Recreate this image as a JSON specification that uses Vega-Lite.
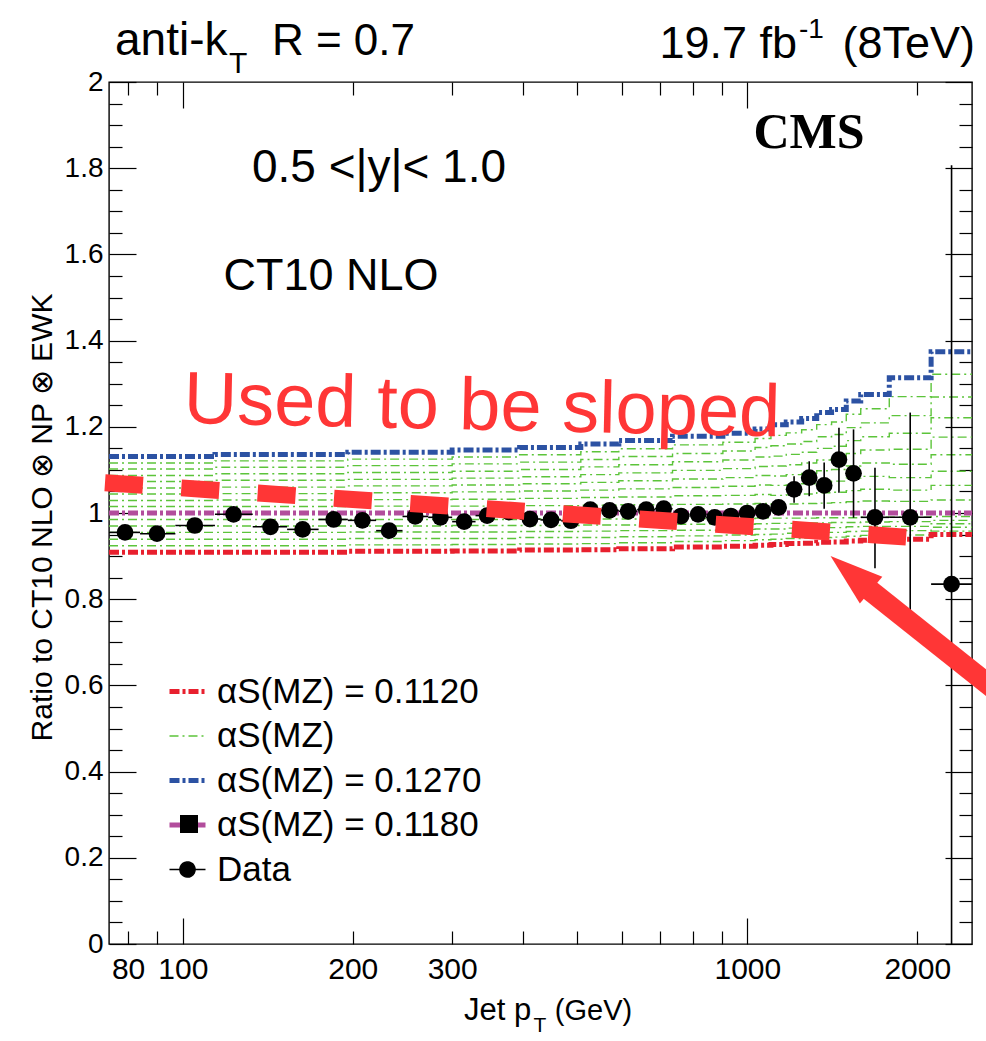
{
  "$schema": "https://vega.github.io/schema/vega-lite/v6.json",
  "width": 863,
  "height": 862,
  "autosize": {"type": "none"},
  "padding": {"left": 109, "top": 82, "right": 14, "bottom": 97},
  "background": "white",
  "config": {
    "view": {"stroke": "black", "strokeWidth": 1.4},
    "font": "Liberation Sans",
    "axis": {"grid": false, "domain": false, "labelColor": "black", "tickColor": "black", "tickWidth": 1.2, "labelFont": "Liberation Sans", "labelFlush": false, "labelOverlap": false, "labelBound": false}
  },
  "datasets": {
    "theory": [
      {"lo": 74, "a112": 0.909, "a113": 0.924, "a114": 0.939, "a115": 0.955, "a116": 0.970, "a117": 0.985, "a118": 1, "a119": 1.015, "a120": 1.029, "a121": 1.044, "a122": 1.058, "a123": 1.073, "a124": 1.087, "a125": 1.102, "a126": 1.116, "a127": 1.131},
      {"lo": 114, "a112": 0.909, "a113": 0.924, "a114": 0.939, "a115": 0.955, "a116": 0.970, "a117": 0.985, "a118": 1, "a119": 1.015, "a120": 1.030, "a121": 1.045, "a122": 1.060, "a123": 1.076, "a124": 1.091, "a125": 1.106, "a126": 1.121, "a127": 1.136},
      {"lo": 196, "a112": 0.911, "a113": 0.926, "a114": 0.941, "a115": 0.956, "a116": 0.970, "a117": 0.985, "a118": 1, "a119": 1.016, "a120": 1.031, "a121": 1.047, "a122": 1.063, "a123": 1.078, "a124": 1.094, "a125": 1.110, "a126": 1.125, "a127": 1.141},
      {"lo": 300, "a112": 0.912, "a113": 0.927, "a114": 0.941, "a115": 0.956, "a116": 0.971, "a117": 0.985, "a118": 1, "a119": 1.016, "a120": 1.032, "a121": 1.049, "a122": 1.065, "a123": 1.081, "a124": 1.097, "a125": 1.114, "a126": 1.130, "a127": 1.146},
      {"lo": 395, "a112": 0.914, "a113": 0.928, "a114": 0.943, "a115": 0.957, "a116": 0.971, "a117": 0.986, "a118": 1, "a119": 1.017, "a120": 1.034, "a121": 1.051, "a122": 1.068, "a123": 1.084, "a124": 1.101, "a125": 1.118, "a126": 1.135, "a127": 1.152},
      {"lo": 507, "a112": 0.915, "a113": 0.929, "a114": 0.943, "a115": 0.958, "a116": 0.972, "a117": 0.986, "a118": 1, "a119": 1.018, "a120": 1.036, "a121": 1.053, "a122": 1.071, "a123": 1.089, "a124": 1.107, "a125": 1.124, "a126": 1.142, "a127": 1.160},
      {"lo": 592, "a112": 0.917, "a113": 0.931, "a114": 0.945, "a115": 0.959, "a116": 0.972, "a117": 0.986, "a118": 1, "a119": 1.019, "a120": 1.037, "a121": 1.056, "a122": 1.075, "a123": 1.093, "a124": 1.112, "a125": 1.131, "a126": 1.149, "a127": 1.168},
      {"lo": 737, "a112": 0.921, "a113": 0.934, "a114": 0.947, "a115": 0.960, "a116": 0.974, "a117": 0.987, "a118": 1, "a119": 1.020, "a120": 1.040, "a121": 1.059, "a122": 1.079, "a123": 1.099, "a124": 1.119, "a125": 1.138, "a126": 1.158, "a127": 1.178},
      {"lo": 905, "a112": 0.923, "a113": 0.936, "a114": 0.949, "a115": 0.962, "a116": 0.974, "a117": 0.987, "a118": 1, "a119": 1.021, "a120": 1.041, "a121": 1.062, "a122": 1.082, "a123": 1.103, "a124": 1.123, "a125": 1.144, "a126": 1.164, "a127": 1.185},
      {"lo": 1032, "a112": 0.925, "a113": 0.938, "a114": 0.950, "a115": 0.963, "a116": 0.975, "a117": 0.988, "a118": 1, "a119": 1.022, "a120": 1.043, "a121": 1.065, "a122": 1.087, "a123": 1.108, "a124": 1.130, "a125": 1.152, "a126": 1.173, "a127": 1.195},
      {"lo": 1101, "a112": 0.927, "a113": 0.939, "a114": 0.951, "a115": 0.963, "a116": 0.976, "a117": 0.988, "a118": 1, "a119": 1.021, "a120": 1.041, "a121": 1.064, "a122": 1.086, "a123": 1.109, "a124": 1.132, "a125": 1.156, "a126": 1.180, "a127": 1.205},
      {"lo": 1172, "a112": 0.929, "a113": 0.941, "a114": 0.953, "a115": 0.965, "a116": 0.976, "a117": 0.988, "a118": 1, "a119": 1.021, "a120": 1.042, "a121": 1.065, "a122": 1.089, "a123": 1.112, "a124": 1.136, "a125": 1.160, "a126": 1.186, "a127": 1.211},
      {"lo": 1248, "a112": 0.930, "a113": 0.942, "a114": 0.953, "a115": 0.965, "a116": 0.977, "a117": 0.988, "a118": 1, "a119": 1.022, "a120": 1.044, "a121": 1.068, "a122": 1.092, "a123": 1.116, "a124": 1.141, "a125": 1.166, "a126": 1.193, "a127": 1.219},
      {"lo": 1327, "a112": 0.932, "a113": 0.943, "a114": 0.955, "a115": 0.966, "a116": 0.977, "a117": 0.989, "a118": 1, "a119": 1.023, "a120": 1.047, "a121": 1.072, "a122": 1.098, "a123": 1.123, "a124": 1.150, "a125": 1.177, "a126": 1.205, "a127": 1.233},
      {"lo": 1410, "a112": 0.933, "a113": 0.944, "a114": 0.955, "a115": 0.966, "a116": 0.978, "a117": 0.989, "a118": 1, "a119": 1.024, "a120": 1.048, "a121": 1.074, "a122": 1.101, "a123": 1.127, "a124": 1.155, "a125": 1.182, "a126": 1.211, "a127": 1.240},
      {"lo": 1497, "a112": 0.935, "a113": 0.946, "a114": 0.957, "a115": 0.968, "a116": 0.978, "a117": 0.989, "a118": 1, "a119": 1.026, "a120": 1.052, "a121": 1.081, "a122": 1.109, "a123": 1.138, "a124": 1.168, "a125": 1.198, "a126": 1.229, "a127": 1.260},
      {"lo": 1588, "a112": 0.937, "a113": 0.948, "a114": 0.958, "a115": 0.969, "a116": 0.979, "a117": 0.990, "a118": 1, "a119": 1.028, "a120": 1.055, "a121": 1.085, "a122": 1.116, "a123": 1.146, "a124": 1.177, "a125": 1.209, "a126": 1.242, "a127": 1.275},
      {"lo": 1784, "a112": 0.939, "a113": 0.949, "a114": 0.959, "a115": 0.969, "a116": 0.980, "a117": 0.990, "a118": 1, "a119": 1.027, "a120": 1.053, "a121": 1.082, "a122": 1.113, "a123": 1.148, "a124": 1.185, "a125": 1.226, "a126": 1.270, "a127": 1.314},
      {"lo": 2116, "a112": 0.950, "a113": 0.958, "a114": 0.967, "a115": 0.975, "a116": 0.983, "a117": 0.992, "a118": 1, "a119": 1.030, "a120": 1.064, "a121": 1.097, "a122": 1.135, "a123": 1.176, "a124": 1.221, "a125": 1.269, "a126": 1.322, "a127": 1.374},
      {"lo": 2500, "a112": 0.950, "a113": 0.958, "a114": 0.967, "a115": 0.975, "a116": 0.983, "a117": 0.992, "a118": 1, "a119": 1.030, "a120": 1.064, "a121": 1.097, "a122": 1.135, "a123": 1.176, "a124": 1.221, "a125": 1.269, "a126": 1.322, "a127": 1.374}
    ],
    "points": [
      {"pt": 79, "xlo": 74, "xhi": 84, "r": 0.955, "ylo": 0.950, "yhi": 0.960},
      {"pt": 90, "xlo": 84, "xhi": 97, "r": 0.952, "ylo": 0.947, "yhi": 0.957},
      {"pt": 105, "xlo": 97, "xhi": 114, "r": 0.971, "ylo": 0.966, "yhi": 0.976},
      {"pt": 123, "xlo": 114, "xhi": 133, "r": 0.997, "ylo": 0.992, "yhi": 1.002},
      {"pt": 143, "xlo": 133, "xhi": 153, "r": 0.968, "ylo": 0.963, "yhi": 0.973},
      {"pt": 163, "xlo": 153, "xhi": 174, "r": 0.962, "ylo": 0.957, "yhi": 0.967},
      {"pt": 185, "xlo": 174, "xhi": 196, "r": 0.985, "ylo": 0.980, "yhi": 0.990},
      {"pt": 208, "xlo": 196, "xhi": 220, "r": 0.983, "ylo": 0.978, "yhi": 0.988},
      {"pt": 232, "xlo": 220, "xhi": 245, "r": 0.959, "ylo": 0.954, "yhi": 0.964},
      {"pt": 258, "xlo": 245, "xhi": 272, "r": 0.992, "ylo": 0.987, "yhi": 0.997},
      {"pt": 286, "xlo": 272, "xhi": 300, "r": 0.990, "ylo": 0.985, "yhi": 0.995},
      {"pt": 315, "xlo": 300, "xhi": 330, "r": 0.980, "ylo": 0.975, "yhi": 0.985},
      {"pt": 346, "xlo": 330, "xhi": 362, "r": 0.994, "ylo": 0.989, "yhi": 0.999},
      {"pt": 378, "xlo": 362, "xhi": 395, "r": 1.002, "ylo": 0.997, "yhi": 1.007},
      {"pt": 412, "xlo": 395, "xhi": 430, "r": 0.986, "ylo": 0.981, "yhi": 0.991},
      {"pt": 449, "xlo": 430, "xhi": 468, "r": 0.984, "ylo": 0.979, "yhi": 0.989},
      {"pt": 487, "xlo": 468, "xhi": 507, "r": 0.982, "ylo": 0.977, "yhi": 0.987},
      {"pt": 527, "xlo": 507, "xhi": 548, "r": 1.008, "ylo": 1.003, "yhi": 1.013},
      {"pt": 570, "xlo": 548, "xhi": 592, "r": 1.006, "ylo": 1.001, "yhi": 1.011},
      {"pt": 615, "xlo": 592, "xhi": 638, "r": 1.004, "ylo": 0.999, "yhi": 1.009},
      {"pt": 662, "xlo": 638, "xhi": 686, "r": 1.008, "ylo": 1.002, "yhi": 1.014},
      {"pt": 711, "xlo": 686, "xhi": 737, "r": 1.010, "ylo": 1.004, "yhi": 1.016},
      {"pt": 763, "xlo": 737, "xhi": 790, "r": 0.993, "ylo": 0.986, "yhi": 1.000},
      {"pt": 818, "xlo": 790, "xhi": 846, "r": 0.997, "ylo": 0.990, "yhi": 1.004},
      {"pt": 875, "xlo": 846, "xhi": 905, "r": 0.990, "ylo": 0.982, "yhi": 0.998},
      {"pt": 935, "xlo": 905, "xhi": 967, "r": 0.993, "ylo": 0.984, "yhi": 1.002},
      {"pt": 999, "xlo": 967, "xhi": 1032, "r": 1.000, "ylo": 0.990, "yhi": 1.010},
      {"pt": 1066, "xlo": 1032, "xhi": 1101, "r": 1.004, "ylo": 0.992, "yhi": 1.016},
      {"pt": 1136, "xlo": 1101, "xhi": 1172, "r": 1.013, "ylo": 0.998, "yhi": 1.028},
      {"pt": 1210, "xlo": 1172, "xhi": 1248, "r": 1.055, "ylo": 1.024, "yhi": 1.085},
      {"pt": 1287, "xlo": 1248, "xhi": 1327, "r": 1.082, "ylo": 1.039, "yhi": 1.120},
      {"pt": 1368, "xlo": 1327, "xhi": 1410, "r": 1.064, "ylo": 1.010, "yhi": 1.117},
      {"pt": 1453, "xlo": 1410, "xhi": 1497, "r": 1.124, "ylo": 1.047, "yhi": 1.198},
      {"pt": 1542, "xlo": 1497, "xhi": 1588, "r": 1.092, "ylo": 0.989, "yhi": 1.194},
      {"pt": 1683, "xlo": 1588, "xhi": 1784, "r": 0.990, "ylo": 0.872, "yhi": 1.105},
      {"pt": 1943, "xlo": 1784, "xhi": 2116, "r": 0.990, "ylo": 0.767, "yhi": 1.233},
      {"pt": 2300, "xlo": 2116, "xhi": 2500, "r": 0.835, "ylo": 0.0, "yhi": 1.807}
    ]
  },
  "resolve": {"axis": {"x": "independent", "y": "independent"}},
  "layer": [
    {
      "data": {"name": "theory"},
      "transform": [{"fold": ["a113", "a114", "a115", "a116", "a117", "a119", "a120", "a121", "a122", "a123", "a124", "a125", "a126"], "as": ["alpha", "ratio"]}],
      "mark": {"type": "line", "interpolate": "step-after", "strokeWidth": 1.4, "strokeDash": [9, 4, 2, 4]},
      "encoding": {
        "x": {"field": "lo", "type": "quantitative", "scale": {"type": "log", "domain": [74, 2500], "nice": false},
          "axis": {"orient": "bottom", "values": [80, 100, 200, 300, 1000, 2000], "ticks": false, "domain": false, "grid": false, "labelFontSize": 30, "labelPadding": 10, "format": "~g", "title": null, "labelFlush": false, "labelOverlap": false}},
        "y": {"field": "ratio", "type": "quantitative", "scale": {"domain": [0, 2], "nice": false, "zero": false},
          "axis": {"orient": "left", "values": [0, 0.2, 0.4, 0.6, 0.8, 1, 1.2, 1.4, 1.6, 1.8, 2], "ticks": false, "domain": false, "grid": false, "labelFontSize": 28, "labelPadding": 6, "format": "~g", "labelFlush": false, "labelOverlap": false,
            "title": "Ratio to CT10 NLO ⊗ NP ⊗ EWK", "titleFontSize": 30, "titleFontWeight": "normal", "titleFont": "Liberation Sans", "titleColor": "black", "titleX": -67, "titleY": 435, "titleAngle": -90, "titleAlign": "center", "titleBaseline": "middle"}},
        "detail": {"field": "alpha"},
        "color": {"field": "alpha", "type": "nominal",
          "scale": {"domain": ["a112", "a113", "a114", "a115", "a116", "a117", "a118", "a119", "a120", "a121", "a122", "a123", "a124", "a125", "a126", "a127", "Data"],
            "range": ["#e8202e", "#5cc43a", "#5cc43a", "#5cc43a", "#5cc43a", "#5cc43a", "#b24d9c", "#5cc43a", "#5cc43a", "#5cc43a", "#5cc43a", "#5cc43a", "#5cc43a", "#5cc43a", "#5cc43a", "#2c52a3", "black"]},
          "legend": {
            "orient": "none", "legendX": 61, "legendY": 592, "title": null, "padding": 0,
            "symbolSize": 1296, "labelOffset": 12, "rowPadding": 8.5, "labelFontSize": 35, "labelFont": "Liberation Sans", "labelColor": "black", "labelBaseline": "middle", "labelLimit": 0,
            "values": ["a112", "a113", "a127", "a118", "Data"],
            "labelExpr": "datum.value === 'a112' ? 'αS(MZ) = 0.1120' : datum.value === 'a113' ? 'αS(MZ)' : datum.value === 'a127' ? 'αS(MZ) = 0.1270' : datum.value === 'a118' ? 'αS(MZ) = 0.1180' : 'Data'",
            "encode": {
              "symbols": {
                "update": {
                  "shape": {"signal": "datum.value === 'Data' ? 'M-1,0H1M-0.42,0A0.42,0.42 0 1 1 0.42,0A0.42,0.42 0 1 1 -0.42,0Z' : 'M-1,0H1'"},
                  "size": {"value": 1296},
                  "fill": {"signal": "datum.value === 'Data' ? 'black' : 'transparent'"},
                  "stroke": {"signal": "datum.value === 'Data' ? 'black' : (datum.value === 'a112' ? '#e8202e' : (datum.value === 'a113' ? '#5cc43a' : (datum.value === 'a127' ? '#2c52a3' : '#b24d9c')))"},
                  "strokeWidth": {"signal": "datum.value === 'a113' ? 1.6 : (datum.value === 'Data' ? 1.5 : 5)"},
                  "strokeDash": {"signal": "datum.value === 'a113' ? [9, 4, 2, 4] : ((datum.value === 'Data' || datum.value === 'a118') ? [1, 0] : [10, 3, 3, 3])"},
                  "opacity": {"value": 1}
                }
              }
            }
          }
        }
      }
    },
    {
      "data": {"name": "theory"},
      "transform": [{"fold": ["a112", "a127", "a118"], "as": ["alpha", "ratio"]}],
      "mark": {"type": "line", "interpolate": "step-after", "strokeWidth": 5, "strokeDash": [10, 3, 3, 3]},
      "encoding": {
        "x": {"field": "lo", "type": "quantitative", "axis": {"orient": "bottom", "values": [100, 1000], "labels": false, "domain": false, "grid": false, "tickSize": 26, "offset": -26, "title": null}},
        "y": {"field": "ratio", "type": "quantitative", "axis": {"orient": "left", "values": [0, 0.2, 0.4, 0.6, 0.8, 1, 1.2, 1.4, 1.6, 1.8, 2], "labels": false, "domain": false, "grid": false, "tickSize": 27, "offset": -27, "title": null}},
        "detail": {"field": "alpha"},
        "color": {"field": "alpha", "type": "nominal"}
      }
    },
    {
      "data": {"name": "points"},
      "mark": {"type": "rule", "color": "black", "strokeWidth": 1.6},
      "encoding": {
        "x": {"field": "xlo", "type": "quantitative", "axis": {"orient": "bottom", "values": [80, 90, 200, 300, 400, 500, 600, 700, 800, 900, 2000], "labels": false, "domain": false, "grid": false, "tickSize": 13, "offset": -13, "title": null}},
        "x2": {"field": "xhi"},
        "y": {"field": "r", "type": "quantitative", "axis": {"orient": "left", "values": [0.05, 0.1, 0.15, 0.25, 0.3, 0.35, 0.45, 0.5, 0.55, 0.65, 0.7, 0.75, 0.85, 0.9, 0.95, 1.05, 1.1, 1.15, 1.25, 1.3, 1.35, 1.45, 1.5, 1.55, 1.65, 1.7, 1.75, 1.85, 1.9, 1.95], "labels": false, "domain": false, "grid": false, "tickSize": 13, "offset": -13, "title": null}}
      }
    },
    {
      "data": {"name": "points"},
      "mark": {"type": "rule", "color": "black", "strokeWidth": 1.6},
      "encoding": {
        "x": {"field": "pt", "type": "quantitative", "axis": {"orient": "top", "values": [100, 1000], "labels": false, "domain": false, "grid": false, "tickSize": 26, "offset": -26, "title": null}},
        "y": {"field": "ylo", "type": "quantitative", "axis": {"orient": "right", "values": [0, 0.2, 0.4, 0.6, 0.8, 1, 1.2, 1.4, 1.6, 1.8, 2], "labels": false, "domain": false, "grid": false, "tickSize": 27, "offset": -27, "title": null}},
        "y2": {"field": "yhi"}
      }
    },
    {
      "data": {"name": "points"},
      "mark": {"type": "point", "shape": "circle", "filled": true, "size": 280, "opacity": 1},
      "encoding": {
        "x": {"field": "pt", "type": "quantitative", "axis": {"orient": "top", "values": [80, 90, 200, 300, 400, 500, 600, 700, 800, 900, 2000], "labels": false, "domain": false, "grid": false, "tickSize": 13, "offset": -13, "title": null}},
        "y": {"field": "r", "type": "quantitative", "axis": {"orient": "right", "values": [0.05, 0.1, 0.15, 0.25, 0.3, 0.35, 0.45, 0.5, 0.55, 0.65, 0.7, 0.75, 0.85, 0.9, 0.95, 1.05, 1.1, 1.15, 1.25, 1.3, 1.35, 1.45, 1.5, 1.55, 1.65, 1.7, 1.75, 1.85, 1.9, 1.95], "labels": false, "domain": false, "grid": false, "tickSize": 13, "offset": -13, "title": null}},
        "color": {"datum": "Data", "type": "nominal"}
      }
    },
    {
      "data": {"values": [{}]},
      "mark": {"type": "point", "filled": true, "color": "black", "opacity": 0},
      "encoding": {
        "x": {"datum": 1000, "type": "quantitative", "axis": null},
        "y": {"datum": 1, "type": "quantitative", "axis": null},
        "shape": {"datum": "sq", "type": "nominal", "scale": {"domain": ["sq"], "range": ["square"]},
          "legend": {"orient": "none", "legendX": 71, "legendY": 733, "title": null, "padding": 0, "symbolSize": 324, "symbolOpacity": 1, "symbolFillColor": "black", "symbolStrokeColor": "black", "symbolStrokeWidth": 0, "labelExpr": "''", "labelOffset": 0,
            "encode": {"symbols": {"update": {"fill": {"value": "black"}, "opacity": {"value": 1}, "strokeWidth": {"value": 0}}}}}}
      }
    },
    {
      "data": {"values": [{}]},
      "mark": {"type": "rule", "color": "#ff3636", "strokeWidth": 17, "strokeDash": [38, 38.5], "strokeCap": "butt"},
      "encoding": {
        "x": {"datum": 72.8, "type": "quantitative", "axis": null},
        "y": {"datum": 1.0703, "type": "quantitative", "axis": null},
        "x2": {"datum": 1918.7},
        "y2": {"datum": 0.9439}
      }
    },
    {
      "data": {"values": [{}]},
      "mark": {"type": "rule", "color": "#ff3636", "strokeWidth": 21, "strokeCap": "butt"},
      "encoding": {
        "x": {"datum": 1623, "type": "quantitative", "axis": null},
        "y": {"datum": 0.8276, "type": "quantitative", "axis": null},
        "x2": {"datum": 2812},
        "y2": {"datum": 0.579}
      }
    },
    {
      "data": {"values": [{}]},
      "mark": {"type": "point", "shape": "M0,-1L0.66,1L-0.66,1Z", "filled": true, "size": 2800, "color": "#ff3636", "opacity": 1, "angle": -50},
      "encoding": {
        "x": {"datum": 1525, "type": "quantitative", "axis": null},
        "y": {"datum": 0.8606, "type": "quantitative", "axis": null}
      }
    },
    {
      "data": {"values": [{}]},
      "mark": {"type": "text", "text": "Used to be sloped", "font": "Liberation Sans", "fontSize": 74, "align": "left", "baseline": "alphabetic", "color": "#ff3636", "angle": 1.3},
      "encoding": {"x": {"datum": 100.2, "type": "quantitative", "axis": null}, "y": {"datum": 1.2088, "type": "quantitative", "axis": null}}
    },
    {
      "data": {"values": [{}]},
      "mark": {"type": "text", "text": "anti-k", "font": "Liberation Sans", "fontSize": 46, "align": "left", "baseline": "alphabetic", "color": "black"},
      "encoding": {"x": {"datum": 75.84, "type": "quantitative", "axis": null}, "y": {"datum": 2.0626, "type": "quantitative", "axis": null}}
    },
    {
      "data": {"values": [{}]},
      "mark": {"type": "text", "text": "T", "font": "Liberation Sans", "fontSize": 30, "align": "left", "baseline": "alphabetic", "color": "black"},
      "encoding": {"x": {"datum": 120.7, "type": "quantitative", "axis": null}, "y": {"datum": 2.0209, "type": "quantitative", "axis": null}}
    },
    {
      "data": {"values": [{}]},
      "mark": {"type": "text", "text": "R = 0.7", "font": "Liberation Sans", "fontSize": 44, "align": "right", "baseline": "alphabetic", "color": "black"},
      "encoding": {"x": {"datum": 257.8, "type": "quantitative", "axis": null}, "y": {"datum": 2.0626, "type": "quantitative", "axis": null}}
    },
    {
      "data": {"values": [{}]},
      "mark": {"type": "text", "text": "19.7 fb", "font": "Liberation Sans", "fontSize": 45, "align": "right", "baseline": "alphabetic", "color": "black"},
      "encoding": {"x": {"datum": 1224.5, "type": "quantitative", "axis": null}, "y": {"datum": 2.0557, "type": "quantitative", "axis": null}}
    },
    {
      "data": {"values": [{}]},
      "mark": {"type": "text", "text": "-1", "font": "Liberation Sans", "fontSize": 28, "align": "left", "baseline": "alphabetic", "color": "black"},
      "encoding": {"x": {"datum": 1234.5, "type": "quantitative", "axis": null}, "y": {"datum": 2.1021, "type": "quantitative", "axis": null}}
    },
    {
      "data": {"values": [{}]},
      "mark": {"type": "text", "text": "(8TeV)", "font": "Liberation Sans", "fontSize": 45, "align": "right", "baseline": "alphabetic", "color": "black"},
      "encoding": {"x": {"datum": 2530.7, "type": "quantitative", "axis": null}, "y": {"datum": 2.0557, "type": "quantitative", "axis": null}}
    },
    {
      "data": {"values": [{}]},
      "mark": {"type": "text", "text": "CMS", "font": "Liberation Serif", "fontWeight": "bold", "fontSize": 50, "align": "center", "baseline": "alphabetic", "color": "black"},
      "encoding": {"x": {"datum": 1286, "type": "quantitative", "axis": null}, "y": {"datum": 1.8469, "type": "quantitative", "axis": null}}
    },
    {
      "data": {"values": [{}]},
      "mark": {"type": "text", "text": "0.5 <|y|< 1.0", "font": "Liberation Sans", "fontSize": 46, "align": "center", "baseline": "alphabetic", "color": "black"},
      "encoding": {"x": {"datum": 222.6, "type": "quantitative", "axis": null}, "y": {"datum": 1.768, "type": "quantitative", "axis": null}}
    },
    {
      "data": {"values": [{}]},
      "mark": {"type": "text", "text": "CT10 NLO", "font": "Liberation Sans", "fontSize": 45, "align": "center", "baseline": "alphabetic", "color": "black"},
      "encoding": {"x": {"datum": 183, "type": "quantitative", "axis": null}, "y": {"datum": 1.5174, "type": "quantitative", "axis": null}}
    },
    {
      "data": {"values": [{}]},
      "mark": {"type": "text", "text": "Jet p", "font": "Liberation Sans", "fontSize": 31, "align": "right", "baseline": "alphabetic", "color": "black"},
      "encoding": {"x": {"datum": 414, "type": "quantitative", "axis": null}, "y": {"datum": -0.1763, "type": "quantitative", "axis": null}}
    },
    {
      "data": {"values": [{}]},
      "mark": {"type": "text", "text": "T", "font": "Liberation Sans", "fontSize": 21, "align": "left", "baseline": "alphabetic", "color": "black"},
      "encoding": {"x": {"datum": 418, "type": "quantitative", "axis": null}, "y": {"datum": -0.2042, "type": "quantitative", "axis": null}}
    },
    {
      "data": {"values": [{}]},
      "mark": {"type": "text", "text": "(GeV)", "font": "Liberation Sans", "fontSize": 29, "align": "left", "baseline": "alphabetic", "color": "black"},
      "encoding": {"x": {"datum": 456, "type": "quantitative", "axis": null}, "y": {"datum": -0.1763, "type": "quantitative", "axis": null}}
    }
  ]
}
